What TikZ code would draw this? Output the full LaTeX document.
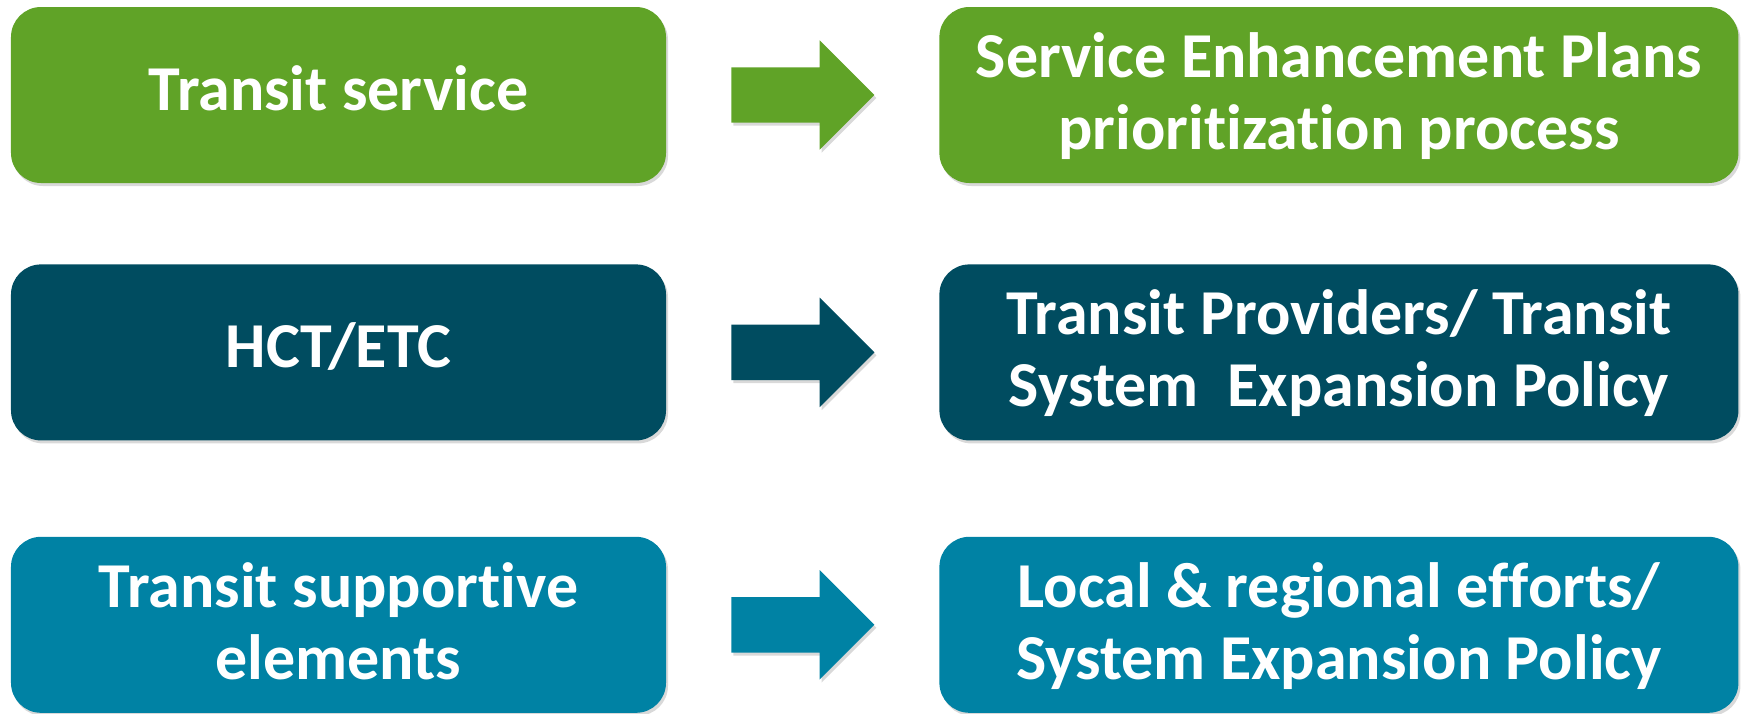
\documentclass[tikz,border=0pt]{standalone}
\usepackage{fontspec}
\setmainfont{Carlito}[Ligatures=NoCommon]
\usetikzlibrary{positioning,calc,shapes.arrows,shadows}
\definecolor{transitgreen}{RGB}{96,163,39}
\definecolor{hctblue}{RGB}{0,76,96}
\definecolor{supportblue}{RGB}{0,130,164}

\begin{document}
\begin{tikzpicture}[auto, node distance=81pt and 273pt]
    \tikzstyle{box}=[rounded corners=30pt,minimum height=176pt,inner sep=0pt,text=white,align=center,font=\fontsize{64}{72}\selectfont\bfseries,text height=44pt,text depth=14pt,drop shadow={shadow xshift=2pt,shadow yshift=-3pt,opacity=.3}]
    \tikzstyle{twolines}=[text height=116pt,text depth=7pt]
    \tikzstyle{leftbox}=[box,minimum width=655pt]
    \tikzstyle{rightbox}=[box,twolines,minimum width=799pt]
    \tikzstyle{bigarrow}=[single arrow,single arrow head extend=27pt,minimum height=143pt,inner xsep=0pt,inner ysep=27.5pt,drop shadow={shadow xshift=2pt,shadow yshift=-3pt,opacity=.3}]

    \useasboundingbox (-338.5pt,95pt) rectangle (1408.5pt,-618pt);

    \node[leftbox,fill=transitgreen]    (TS)                        {Transit service};
    \node[leftbox,fill=hctblue]         (HCT)[below=of TS]          {HCT/ETC};
    \node[leftbox,twolines,fill=supportblue] (TSE)[below=96pt of HCT] {Transit supportive\\elements};

    \node[rightbox,fill=transitgreen]   (SEP)[right=of TS]          {Service Enhancement Plans\\prioritization process};
    \node[rightbox,fill=hctblue]        (TPE)[right=of HCT]         {Transit Providers/ Transit\\System\ \ Expansion Policy};
    \node[rightbox,fill=supportblue]    (LRE)[right=of TSE]         {Local \& regional efforts/\\System Expansion Policy};

    \node[bigarrow,fill=transitgreen]   (a1)[right=65pt of TS]      {};
    \node[bigarrow,fill=hctblue]        (a2)[right=65pt of HCT]     {};
    \node[bigarrow,fill=supportblue]    (a3)[right=65pt of TSE]     {};

\end{tikzpicture}
\end{document}
